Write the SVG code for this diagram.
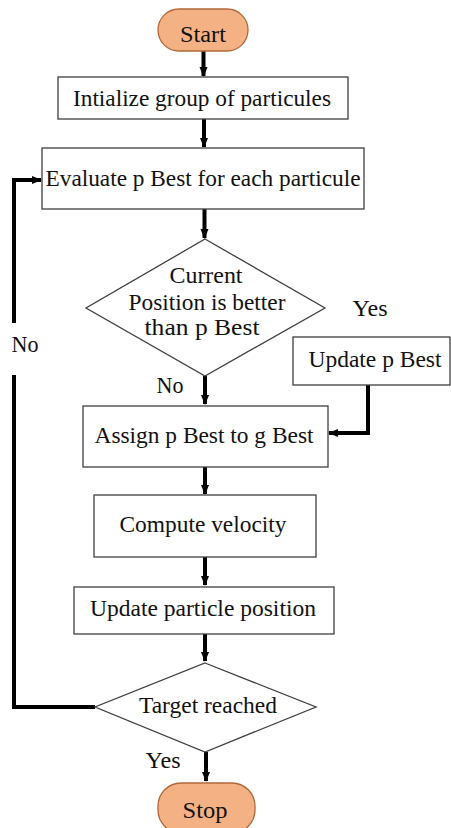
<svg xmlns="http://www.w3.org/2000/svg" width="451" height="828" viewBox="0 0 451 828">
<style>
.box{fill:#fff;stroke:#3f3f3f;stroke-width:1.3}
.pill{fill:#F4B183;stroke:#B0683A;stroke-width:1.3}
.t{font-family:"Liberation Serif","Times New Roman",serif;font-size:24px;fill:#111;text-anchor:middle}
.c{fill:none;stroke:#000;stroke-width:4}
</style>
<defs>
<marker id="ah" markerUnits="userSpaceOnUse" markerWidth="10" markerHeight="10" viewBox="0 0 10 10" refX="9" refY="5" orient="auto">
<path d="M0,1 L10,5 L0,9 Z" fill="#000"/>
</marker>
</defs>
<rect width="451" height="828" fill="#fff"/>
<g id="connectors">
<line class="c" x1="203.5" y1="51" x2="203.5" y2="76" marker-end="url(#ah)"/>
<line class="c" x1="204" y1="119" x2="204" y2="147" marker-end="url(#ah)"/>
<line class="c" x1="204.5" y1="209" x2="204.5" y2="238" marker-end="url(#ah)"/>
<line class="c" x1="205" y1="376" x2="205" y2="404" marker-end="url(#ah)"/>
<polyline class="c" points="368,385 368,433 329,433" marker-end="url(#ah)"/>
<line class="c" x1="205" y1="467" x2="205" y2="494" marker-end="url(#ah)"/>
<line class="c" x1="205" y1="557" x2="205" y2="585" marker-end="url(#ah)"/>
<line class="c" x1="205" y1="634" x2="205" y2="661" marker-end="url(#ah)"/>
<line class="c" x1="206" y1="752" x2="206" y2="781" marker-end="url(#ah)"/>
<polyline class="c" points="95,707 14,707 14,375"/>
<polyline class="c" points="14,323 14,180 41,180" marker-end="url(#ah)"/>
<text class="t" x="25" y="352" textLength="27" lengthAdjust="spacingAndGlyphs">No</text>
<text class="t" x="370" y="316" textLength="35" lengthAdjust="spacingAndGlyphs">Yes</text>
<text class="t" x="170" y="393" textLength="27" lengthAdjust="spacingAndGlyphs">No</text>
<text class="t" x="163" y="768" textLength="35" lengthAdjust="spacingAndGlyphs">Yes</text>
</g>
<g id="start">
<rect class="pill" x="158" y="9" width="90" height="42" rx="21"/>
<text class="t" x="203" y="42" textLength="46" lengthAdjust="spacingAndGlyphs">Start</text>
</g>
<g id="init">
<rect class="box" x="58" y="77" width="290" height="42"/>
<text class="t" x="202" y="106" textLength="258" lengthAdjust="spacingAndGlyphs">Intialize group of particules</text>
</g>
<g id="evaluate">
<rect class="box" x="42" y="148" width="322" height="61"/>
<text class="t" x="203" y="186" textLength="315" lengthAdjust="spacingAndGlyphs">Evaluate p Best for each particule</text>
</g>
<g id="decision1">
<polygon class="box" points="205,239 325,308 205,376 86,308"/>
<text class="t" x="206" y="283" textLength="73" lengthAdjust="spacingAndGlyphs">Current</text>
<text class="t" x="207" y="310" textLength="157" lengthAdjust="spacingAndGlyphs">Position is better</text>
<text class="t" x="202" y="335" textLength="115" lengthAdjust="spacingAndGlyphs">than p Best</text>
</g>
<g id="updatepbest">
<rect class="box" x="293" y="337" width="157" height="48"/>
<text class="t" x="375" y="367" textLength="133" lengthAdjust="spacingAndGlyphs">Update p Best</text>
</g>
<g id="assign">
<rect class="box" x="83" y="406" width="245" height="61"/>
<text class="t" x="204" y="443" textLength="219" lengthAdjust="spacingAndGlyphs">Assign p Best to g Best</text>
</g>
<g id="compute">
<rect class="box" x="94" y="495" width="222" height="62"/>
<text class="t" x="203" y="532" textLength="167" lengthAdjust="spacingAndGlyphs">Compute velocity</text>
</g>
<g id="updatepos">
<rect class="box" x="74" y="587" width="260" height="47"/>
<text class="t" x="203" y="616" textLength="226" lengthAdjust="spacingAndGlyphs">Update particle position</text>
</g>
<g id="decision2">
<polygon class="box" points="205,663 316,707 205,752 95,707"/>
<text class="t" x="208" y="713" textLength="138" lengthAdjust="spacingAndGlyphs">Target reached</text>
</g>
<g id="stop">
<rect class="pill" x="158" y="783" width="97" height="50" rx="23"/>
<text class="t" x="205" y="818" textLength="45" lengthAdjust="spacingAndGlyphs">Stop</text>
</g>
</svg>
